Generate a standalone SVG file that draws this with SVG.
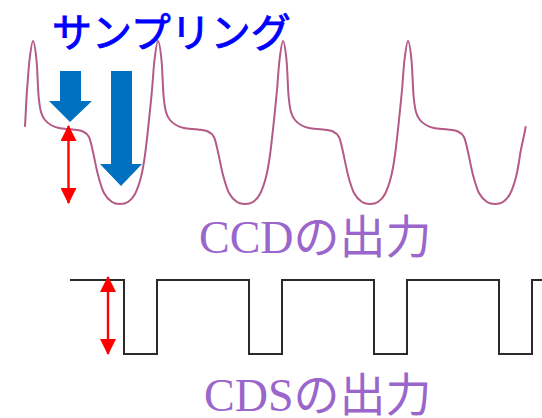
<svg xmlns="http://www.w3.org/2000/svg" width="542" height="418" viewBox="0 0 542 418">
  <style>
    .ccd { fill: none; stroke: #b45a86; stroke-width: 2; stroke-linejoin: round; stroke-linecap: round; }
    .cds { fill: none; stroke: #2a2a2a; stroke-width: 2; stroke-linejoin: miter; }
    .sample { fill: #0070c0; }
    .span { stroke: #ff0000; stroke-width: 2.4; fill: none; }
    .title { font-family: "Noto Sans CJK JP", "Noto Sans", sans-serif; font-size: 40px; fill: #0000ff; stroke: #0000ff; stroke-width: 0.9px; }
    .label { font-family: "Liberation Serif", "Noto Sans CJK JP", serif; font-size: 46px; fill: #9a66cc; }
  </style>
  <defs>
    <marker id="redHead" viewBox="0 0 16 16" refX="15" refY="8" markerWidth="16" markerHeight="16" markerUnits="userSpaceOnUse" orient="auto-start-reverse">
      <path d="M0,0 L16,8 L0,16 Z" fill="#ff0000"/>
    </marker>
  </defs>

  <!-- CCD output waveform: reset peak, feed-through plateau, signal trough, period 125 px -->
  <g id="ccd-wave">
    <path class="ccd" d="M25,126 C25.8,113 26.3,100 27,90 c0.92,-10 1.5,-21.83 2.5,-30 c1,-8.17 2.33,-19 3.5,-19
      c1.17,0 2.58,10 3.5,19 c0.92,9 1.25,26.33 2,35 c0.75,8.67 1.42,12.83 2.5,17 c1.08,4.17 2.33,5.83 4,8 c1.67,2.17 3.67,3.67 6,5 c2.33,1.33 4.33,2.25 8,3 c3.67,0.75 10,0.92 14,1.5 c4,0.58 7.33,0.75 10,2 c2.67,1.25 4.33,2.08 6,5.5 c1.67,3.42 2.5,8.67 4,15 c1.5,6.33 3.17,16.17 5,23 c1.83,6.83 3.67,13.5 6,18 c2.33,4.5 5.33,7.17 8,9 c2.67,1.83 5.33,2 8,2 c2.67,0 5.5,-0.33 8,-2 c2.5,-1.67 4.83,-3.83 7,-8 c2.17,-4.17 4.33,-10.5 6,-17 c1.67,-6.5 2.67,-12.5 4,-22 c1.33,-9.5 2.83,-24.17 4,-35 c1.17,-10.83 2.08,-20 3,-30 c0.92,-10 1.5,-21.83 2.5,-30 c1,-8.17 2.33,-19 3.5,-19
      c1.17,0 2.58,10 3.5,19 c0.92,9 1.25,26.33 2,35 c0.75,8.67 1.42,12.83 2.5,17 c1.08,4.17 2.33,5.83 4,8 c1.67,2.17 3.67,3.67 6,5 c2.33,1.33 4.33,2.25 8,3 c3.67,0.75 10,0.92 14,1.5 c4,0.58 7.33,0.75 10,2 c2.67,1.25 4.33,2.08 6,5.5 c1.67,3.42 2.5,8.67 4,15 c1.5,6.33 3.17,16.17 5,23 c1.83,6.83 3.67,13.5 6,18 c2.33,4.5 5.33,7.17 8,9 c2.67,1.83 5.33,2 8,2 c2.67,0 5.5,-0.33 8,-2 c2.5,-1.67 4.83,-3.83 7,-8 c2.17,-4.17 4.33,-10.5 6,-17 c1.67,-6.5 2.67,-12.5 4,-22 c1.33,-9.5 2.83,-24.17 4,-35 c1.17,-10.83 2.08,-20 3,-30 c0.92,-10 1.5,-21.83 2.5,-30 c1,-8.17 2.33,-19 3.5,-19
      c1.17,0 2.58,10 3.5,19 c0.92,9 1.25,26.33 2,35 c0.75,8.67 1.42,12.83 2.5,17 c1.08,4.17 2.33,5.83 4,8 c1.67,2.17 3.67,3.67 6,5 c2.33,1.33 4.33,2.25 8,3 c3.67,0.75 10,0.92 14,1.5 c4,0.58 7.33,0.75 10,2 c2.67,1.25 4.33,2.08 6,5.5 c1.67,3.42 2.5,8.67 4,15 c1.5,6.33 3.17,16.17 5,23 c1.83,6.83 3.67,13.5 6,18 c2.33,4.5 5.33,7.17 8,9 c2.67,1.83 5.33,2 8,2 c2.67,0 5.5,-0.33 8,-2 c2.5,-1.67 4.83,-3.83 7,-8 c2.17,-4.17 4.33,-10.5 6,-17 c1.67,-6.5 2.67,-12.5 4,-22 c1.33,-9.5 2.83,-24.17 4,-35 c1.17,-10.83 2.08,-20 3,-30 c0.92,-10 1.5,-21.83 2.5,-30 c1,-8.17 2.33,-19 3.5,-19
      c1.17,0 2.58,10 3.5,19 c0.92,9 1.25,26.33 2,35 c0.75,8.67 1.42,12.83 2.5,17 c1.08,4.17 2.33,5.83 4,8 c1.67,2.17 3.67,3.67 6,5 c2.33,1.33 4.33,2.25 8,3 c3.67,0.75 10,0.92 14,1.5 c4,0.58 7.33,0.75 10,2 c2.67,1.25 4.33,2.08 6,5.5 c1.67,3.42 2.5,8.67 4,15 c1.5,6.33 3.17,16.17 5,23 c1.83,6.83 3.67,13.5 6,18 c2.33,4.5 5.33,7.17 8,9 c2.67,1.83 5.33,2 8,2 c2.67,0 5.5,-0.33 8,-2 c2.5,-1.67 4.83,-3.83 7,-8 c2.17,-4.17 4.33,-10.5 6,-17 c1.67,-6.5 2.67,-12.5 4,-22 c1.33,-9.5 4.5,-20 5.6,-28"/>
  </g>

  <!-- CDS output: rectangular pulse train -->
  <g id="cds-wave">
    <path class="cds" d="M70,280 H124 V354 H157 V280 H249 V354 H282 V280 H374 V354 H407 V280 H499 V354 H532 V280 H542"/>
  </g>

  <!-- sampling points: reset level and signal level -->
  <g id="sample-reset">
    <path class="sample" d="M60,71 H81 V101 H92 L70,122 L49,101 H60 Z"/>
  </g>
  <g id="sample-signal">
    <path class="sample" d="M111,71 H132 V164 H142 L121,186 L100,164 H111 Z"/>
  </g>

  <!-- amplitude spans -->
  <g id="connectors">
    <line id="span-ccd" class="span" x1="68.5" y1="126" x2="68.5" y2="203" marker-start="url(#redHead)" marker-end="url(#redHead)"/>
    <line id="span-cds" class="span" x1="108" y1="277" x2="108" y2="354" marker-start="url(#redHead)" marker-end="url(#redHead)"/>
  </g>

  <g id="title">
    <text class="title" x="52" y="47">サンプリング</text>
  </g>
  <g id="label-ccd">
    <text class="label" x="199" y="253">CCDの出力</text>
  </g>
  <g id="label-cds">
    <text class="label" x="204" y="411">CDSの出力</text>
  </g>
</svg>
